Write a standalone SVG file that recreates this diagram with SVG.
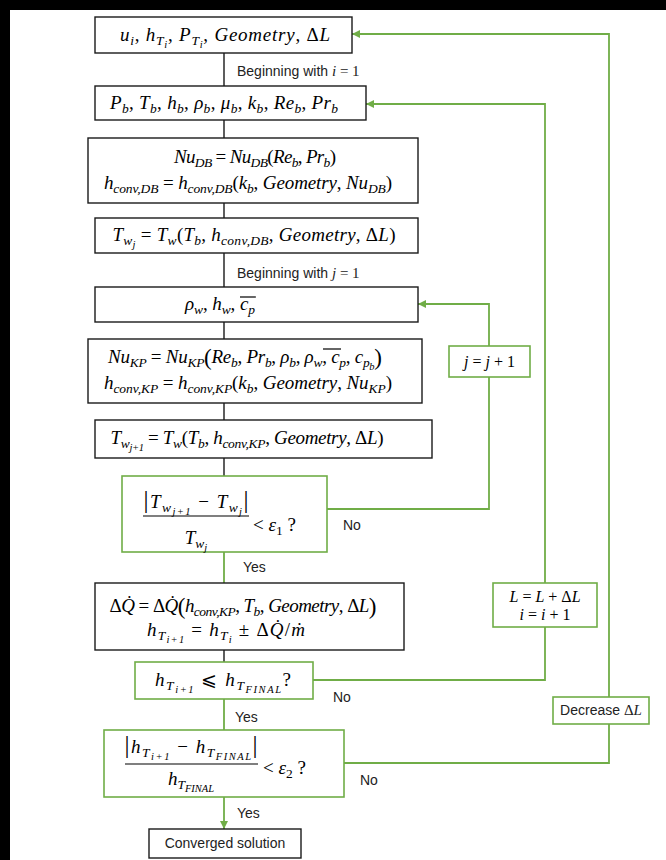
<svg xmlns="http://www.w3.org/2000/svg" width="666" height="860" viewBox="0 0 666 860">
<defs>
<marker id="ah" viewBox="0 0 10 10" refX="10" refY="5" markerWidth="9" markerHeight="8" markerUnits="userSpaceOnUse" orient="auto"><path d="M0,0 L10,5 L0,10 z" fill="#70AD47"/></marker>
</defs>
<style>
.bk{fill:#fff;stroke:#1a1a1a;stroke-width:1.4}
.gb{fill:#fff;stroke:#70AD47;stroke-width:1.6}
.ln{fill:none;stroke:#1a1a1a;stroke-width:1.4}
.gl{fill:none;stroke:#70AD47;stroke-width:1.8}
.m{font-family:"Liberation Serif","DejaVu Serif",serif;font-size:19px;font-style:italic;fill:#000}
.n{font-style:normal}
.s{font-size:13.5px}
.ss{font-size:10.5px}
.bp{font-size:23px;font-style:normal}
.bb{font-size:25px;font-style:normal}
.lb{font-family:"Liberation Sans",Arial,sans-serif;font-size:14px;fill:#222}
.sf{font-family:"Liberation Serif",serif;font-size:15px}
.t{font-family:"Liberation Serif","DejaVu Serif",serif;font-size:16px;font-style:italic;fill:#000}
.bar{stroke:#000;stroke-width:1.2}
</style>
<rect x="0" y="0" width="666" height="860" fill="#000"/>
<rect x="10" y="10" width="656" height="850" fill="#fff"/>
<g id="connectors">
<path class="ln" d="M224 53V86 M224 120V138 M224 203V218 M224 253V287 M224 322V339 M224 403V420 M224 458V476 M224 650V662"/>
<path class="gl" d="M224 552V583 M224 699V730"/>
<path class="gl" d="M224 797V829" marker-end="url(#ah)"/>
<path class="gl" d="M327 509H489V304H418" marker-end="url(#ah)"/>
<path class="gl" d="M313 680H545V104H366" marker-end="url(#ah)"/>
<path class="gl" d="M344 763H609V34H352" marker-end="url(#ah)"/>
<text class="lb" x="237" y="76">Beginning with <tspan class="sf" font-style="italic">i</tspan><tspan class="sf"> = 1</tspan></text>
<text class="lb" x="237" y="278">Beginning with <tspan class="sf" font-style="italic">j</tspan><tspan class="sf"> = 1</tspan></text>
<text class="lb" x="343" y="530">No</text>
<text class="lb" x="243" y="572">Yes</text>
<text class="lb" x="333" y="702">No</text>
<text class="lb" x="235" y="722">Yes</text>
<text class="lb" x="360" y="785">No</text>
<text class="lb" x="237" y="818">Yes</text>
</g>
<g id="n1"><rect class="bk" x="95" y="17" width="257" height="36"/><text class="m" x="225" y="41" text-anchor="middle" textLength="210">u<tspan class="s" dy="4">i</tspan><tspan class="n" dy="-4">, </tspan>h<tspan class="s" dy="4">T</tspan><tspan class="ss" dy="3">i</tspan><tspan class="n" dy="-7">, </tspan>P<tspan class="s" dy="4">T</tspan><tspan class="ss" dy="3">i</tspan><tspan class="n" dy="-7">, </tspan>Geometry<tspan class="n">, Δ</tspan>L</text></g>
<g id="n2"><rect class="bk" x="95" y="86" width="271" height="34"/><text class="m" x="224" y="109" text-anchor="middle" textLength="228">P<tspan class="s" dy="4">b</tspan><tspan class="n" dy="-4">, </tspan>T<tspan class="s" dy="4">b</tspan><tspan class="n" dy="-4">, </tspan>h<tspan class="s" dy="4">b</tspan><tspan class="n" dy="-4">, </tspan>ρ<tspan class="s" dy="4">b</tspan><tspan class="n" dy="-4">, </tspan>μ<tspan class="s" dy="4">b</tspan><tspan class="n" dy="-4">, </tspan>k<tspan class="s" dy="4">b</tspan><tspan class="n" dy="-4">, </tspan>Re<tspan class="s" dy="4">b</tspan><tspan class="n" dy="-4">, </tspan>Pr<tspan class="s" dy="4">b</tspan></text></g>
<g id="n3"><rect class="bk" x="88" y="138" width="330" height="65"/><text class="m" x="255" y="163" text-anchor="middle" textLength="162">Nu<tspan class="s" dy="4">DB</tspan><tspan class="n" dy="-4"> = </tspan>Nu<tspan class="s" dy="4">DB</tspan><tspan class="n" dy="-4">(</tspan>Re<tspan class="s" dy="4">b</tspan><tspan class="n" dy="-4">, </tspan>Pr<tspan class="s" dy="4">b</tspan><tspan class="n" dy="-4">)</tspan></text><text class="m" x="248" y="189" text-anchor="middle" textLength="288">h<tspan class="s" dy="4">conv,DB</tspan><tspan class="n" dy="-4"> = </tspan>h<tspan class="s" dy="4">conv,DB</tspan><tspan class="n" dy="-4">(</tspan>k<tspan class="s" dy="4">b</tspan><tspan class="n" dy="-4">, </tspan>Geometry<tspan class="n">, </tspan>Nu<tspan class="s" dy="4">DB</tspan><tspan class="n" dy="-4">)</tspan></text></g>
<g id="n4"><rect class="bk" x="95" y="218" width="323" height="35"/><text class="m" x="254" y="241" text-anchor="middle" textLength="283">T<tspan class="s" dy="4">w</tspan><tspan class="ss" dy="3">j</tspan><tspan class="n" dy="-7"> = </tspan>T<tspan class="s" dy="4">w</tspan><tspan class="n" dy="-4">(</tspan>T<tspan class="s" dy="4">b</tspan><tspan class="n" dy="-4">, </tspan>h<tspan class="s" dy="4">conv,DB</tspan><tspan class="n" dy="-4">, </tspan>Geometry<tspan class="n">, Δ</tspan>L<tspan class="n">)</tspan></text></g>
<g id="n5"><rect class="bk" x="95" y="287" width="323" height="35"/><text class="m" x="220" y="310" text-anchor="middle" textLength="70">ρ<tspan class="s" dy="4">w</tspan><tspan class="n" dy="-4">, </tspan>h<tspan class="s" dy="4">w</tspan><tspan class="n" dy="-4">, </tspan>c<tspan class="s" dy="4">p</tspan></text><line class="bar" x1="240" y1="297" x2="256" y2="297"/></g>
<g id="n6"><rect class="bk" x="88" y="339" width="334" height="64"/><text class="m" x="245" y="363" text-anchor="middle" textLength="274">Nu<tspan class="s" dy="4">KP</tspan><tspan class="n" dy="-4"> = </tspan>Nu<tspan class="s" dy="4">KP</tspan><tspan class="bp" dy="-2">(</tspan><tspan dy="-2">Re</tspan><tspan class="s" dy="4">b</tspan><tspan class="n" dy="-4">, </tspan>Pr<tspan class="s" dy="4">b</tspan><tspan class="n" dy="-4">, </tspan>ρ<tspan class="s" dy="4">b</tspan><tspan class="n" dy="-4">, </tspan>ρ<tspan class="s" dy="4">w</tspan><tspan class="n" dy="-4">, </tspan>c<tspan class="s" dy="4">p</tspan><tspan class="n" dy="-4">, </tspan>c<tspan class="s" dy="4">p</tspan><tspan class="ss" dy="3">b</tspan><tspan class="bp" dy="-5">)</tspan></text><line class="bar" x1="323" y1="349" x2="341" y2="349"/><text class="m" x="248" y="389" text-anchor="middle" textLength="288">h<tspan class="s" dy="4">conv,KP</tspan><tspan class="n" dy="-4"> = </tspan>h<tspan class="s" dy="4">conv,KP</tspan><tspan class="n" dy="-4">(</tspan>k<tspan class="s" dy="4">b</tspan><tspan class="n" dy="-4">, </tspan>Geometry<tspan class="n">, </tspan>Nu<tspan class="s" dy="4">KP</tspan><tspan class="n" dy="-4">)</tspan></text></g>
<g id="n7"><rect class="bk" x="95" y="420" width="337" height="38"/><text class="m" x="247" y="444" text-anchor="middle" textLength="273">T<tspan class="s" dy="4">w</tspan><tspan class="ss" dy="3">j+1</tspan><tspan class="n" dy="-7"> = </tspan>T<tspan class="s" dy="4">w</tspan><tspan class="n" dy="-4">(</tspan>T<tspan class="s" dy="4">b</tspan><tspan class="n" dy="-4">, </tspan>h<tspan class="s" dy="4">conv,KP</tspan><tspan class="n" dy="-4">, </tspan>Geometry<tspan class="n">, Δ</tspan>L<tspan class="n">)</tspan></text></g>
<g id="n8"><rect class="gb" x="122" y="476" width="205" height="76"/><text class="m" x="196" y="508" text-anchor="middle" textLength="105"><tspan class="bb">|</tspan>T<tspan class="s" dy="4">w</tspan><tspan class="ss" dy="3">j+1</tspan><tspan class="n" dy="-7"> − </tspan>T<tspan class="s" dy="4">w</tspan><tspan class="ss" dy="3">j</tspan><tspan class="bb" dy="-7">|</tspan></text><line class="bar" x1="143" y1="516" x2="249" y2="516"/><text class="m" x="196" y="544" text-anchor="middle">T<tspan class="s" dy="4">w</tspan><tspan class="ss" dy="3">j</tspan></text><text class="m" x="253" y="531"><tspan class="n">&lt; </tspan>ε<tspan class="s n" dy="4">1</tspan><tspan class="n" dy="-4"> ?</tspan></text></g>
<g id="n9"><rect class="bk" x="95" y="583" width="309" height="67"/><text class="m" x="243" y="612" text-anchor="middle" textLength="267"><tspan class="n">Δ</tspan>Q̇<tspan class="n"> = Δ</tspan>Q̇<tspan class="bp" dy="2">(</tspan><tspan dy="-2">h</tspan><tspan class="s" dy="4">conv,KP</tspan><tspan class="n" dy="-4">, </tspan>T<tspan class="s" dy="4">b</tspan><tspan class="n" dy="-4">, </tspan>Geometry<tspan class="n">, Δ</tspan>L<tspan class="bp" dy="2">)</tspan></text><text class="m" x="226" y="636" text-anchor="middle" textLength="158">h<tspan class="s" dy="4">T</tspan><tspan class="ss" dy="3">i+1</tspan><tspan class="n" dy="-7"> = </tspan>h<tspan class="s" dy="4">T</tspan><tspan class="ss" dy="3">i</tspan><tspan class="n" dy="-7"> ± Δ</tspan>Q̇<tspan class="n">/</tspan>ṁ</text></g>
<g id="n10"><rect class="gb" x="135" y="662" width="178" height="37"/><text class="m" x="223" y="686" text-anchor="middle" textLength="136">h<tspan class="s" dy="4">T</tspan><tspan class="ss" dy="3">i+1</tspan><tspan class="n" dy="-7"> ⩽ </tspan>h<tspan class="s" dy="4">T</tspan><tspan class="ss" dy="3">FINAL</tspan><tspan class="n" dy="-7">?</tspan></text></g>
<g id="n11"><rect class="gb" x="104" y="730" width="240" height="67"/><text class="m" x="191" y="753" text-anchor="middle" textLength="133"><tspan class="bb">|</tspan>h<tspan class="s" dy="4">T</tspan><tspan class="ss" dy="3">i+1</tspan><tspan class="n" dy="-7"> − </tspan>h<tspan class="s" dy="4">T</tspan><tspan class="ss" dy="3">FINAL</tspan><tspan class="bb" dy="-7">|</tspan></text><line class="bar" x1="125" y1="764" x2="258" y2="764"/><text class="m" x="191" y="785" text-anchor="middle">h<tspan class="s" dy="4">T</tspan><tspan class="ss" dy="3">FINAL</tspan></text><text class="m" x="263" y="774"><tspan class="n">&lt; </tspan>ε<tspan class="s n" dy="4">2</tspan><tspan class="n" dy="-4"> ?</tspan></text></g>
<g id="n12"><rect class="bk" x="149" y="829" width="152" height="29"/><text class="lb" x="225" y="848" text-anchor="middle">Converged solution</text></g>
<g id="nj"><rect class="gb" x="449" y="346" width="81" height="31"/><text class="t" x="489.5" y="367" text-anchor="middle">j<tspan class="n"> = </tspan>j<tspan class="n"> + 1</tspan></text></g>
<g id="nL"><rect class="gb" x="493" y="583" width="104" height="44"/><text class="t" x="545" y="602" text-anchor="middle">L<tspan class="n"> = </tspan>L<tspan class="n"> + Δ</tspan>L</text><text class="t" x="545" y="620" text-anchor="middle">i<tspan class="n"> = </tspan>i<tspan class="n"> + 1</tspan></text></g>
<g id="nD"><rect class="gb" x="553" y="697" width="96" height="27"/><text class="lb" x="601" y="715" text-anchor="middle">Decrease <tspan class="sf">Δ</tspan><tspan class="sf" font-style="italic">L</tspan></text></g>
</svg>
